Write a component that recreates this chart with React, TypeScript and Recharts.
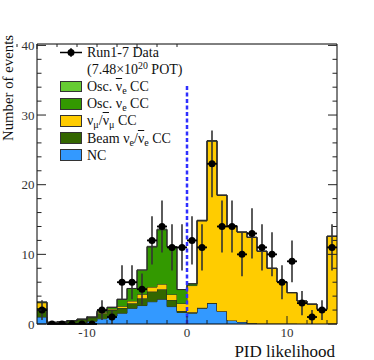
import React from 'react';
import { ComposedChart, Area, Scatter, ErrorBar, XAxis, YAxis, ReferenceLine } from 'recharts';

// ---- data (bins of width 1 from -15 to 15) ----
const BIN_EDGES = [-15, -14, -13, -12, -11, -10, -9, -8, -7, -6, -5, -4, -3, -2, -1, 0, 1, 2, 3, 4, 5, 6, 7, 8, 9, 10, 11, 12, 13, 14, 15];
const NC = [1.0, 0.1, 0.12, 0.15, 0.2, 0.4, 0.75, 1.15, 1.55, 2.25, 2.65, 3.2, 3.55, 2.5, 1.65, 1.55, 2.25, 2.95, 1.8, 0.5, 0.3, 0.12, 0.05, 0.03, 0.02, 0.02, 0.01, 0.01, 0.01, 0.05];
const BEAM_NUE = [1.3, 0.12, 0.15, 0.3, 0.42, 0.5, 0.8, 0.85, 0.75, 0.72, 1.05, 1.45, 1.45, 0.95, 0.2, 0.12, 0.08, 0.05, 0.03, 0.02, 0, 0, 0, 0, 0, 0, 0, 0, 0, 0];
const NUMU = [0.75, 0.02, 0.03, 0.03, 0.04, 0.05, 0.15, 0.15, 0.25, 0.33, 0.57, 0.65, 0.72, 0.8, 1.1, 3.85, 12.45, 23.25, 16.65, 13.58, 12.9, 12.33, 10.4, 7.97, 6.03, 4.48, 3.29, 2.84, 2.09, 12.55];
const OSC_NUE = [0.1, 0, 0, 0.02, 0.04, 0.05, 0.2, 0.25, 1.0, 1.8, 3.45, 5.75, 7.8, 6.8, 2.0, 0.25, 0.1, 0.05, 0.02, 0, 0, 0, 0, 0, 0, 0, 0, 0, 0, 0];
const OSC_NUEBAR = [0, 0, 0, 0, 0, 0, 0, 0, 0, 0, 0.05, 0.1, 0.1, 0.05, 0, 0, 0, 0, 0, 0, 0, 0, 0, 0, 0, 0, 0, 0, 0, 0];
const DATA_COUNTS = [2, 0, 0, 0, 0, 0, 2, 1, 6, 6, 5, 12, 14, 11, 11, 12, 11, 23, 14, 14, 10, 13, 11, 10, 6, 9, 3, 1, 2, 11];

const X_DOMAIN = [-15, 15];
const Y_DOMAIN = [0, 40.2];
const X_TICKS = [-14, -12, -10, -8, -6, -4, -2, 0, 2, 4, 6, 8, 10, 12, 14];
const X_MAJOR = [-10, 0, 10];
const Y_TICKS = [0, 2, 4, 6, 8, 10, 12, 14, 16, 18, 20, 22, 24, 26, 28, 30, 32, 34, 36, 38, 40];
const Y_MAJOR = [0, 10, 20, 30, 40];
const CUT_X = 0;
const CUT_LINE_TOP = 34.3;

const COLORS = {
  nuebar: '#66cc33',
  nue: '#339900',
  numu: '#ffcc00',
  beam: '#336600',
  nc: '#3399ff',
};

const histRows = BIN_EDGES.map((x, i) => {
  const j = Math.min(i, NC.length - 1);
  return { x, nc: NC[j], beam: BEAM_NUE[j], numu: NUMU[j], nue: OSC_NUE[j], nuebar: OSC_NUEBAR[j] };
});

const pointRows = DATA_COUNTS.map((n, i) => ({
  x: (BIN_EDGES[i] + BIN_EDGES[i + 1]) / 2,
  y: n,
  ey: Math.sqrt(n),
  ex: 0.5,
}));

const FONT = '"Liberation Serif", "DejaVu Serif", serif';

const makeTick = (side: string, majors: number[], showLabel: boolean) => (props: any) => {
  const { x, y, payload } = props;
  const v = payload.value;
  const major = majors.includes(v);
  let len = major ? 9 : 4.5;
  if (side === 'bottom') len = major ? 8 : 4;
  if (side === 'top') len = major ? 5 : 3;
  let x2 = x, y2 = y;
  if (side === 'bottom') y2 = y - len;
  if (side === 'top') y2 = y + len;
  if (side === 'left') x2 = x + len;
  if (side === 'right') x2 = x - len;
  let label = null;
  if (showLabel && major) {
    if (side === 'bottom') {
      label = <text x={x} y={y + 13} textAnchor="middle" fontFamily={FONT} fontSize={13} fill="#333">{String(v)}</text>;
    } else if (side === 'left') {
      label = <text x={x - 2.5} y={y} dy="0.36em" textAnchor="end" fontFamily={FONT} fontSize={13} fill="#333">{String(v)}</text>;
    }
  }
  return (
    <g>
      <line x1={x} y1={y} x2={x2} y2={y2} stroke="#222" strokeWidth={1} />
      {label}
    </g>
  );
};

const XTitle = (props: any) => {
  const vb = props.viewBox || { x: 37, y: 324, width: 300, height: 30 };
  return (
    <text x={vb.x + vb.width - 2} y={vb.y + 32.5} textAnchor="end" fontFamily={FONT} fontSize={17} fill="#111">PID likelihood</text>
  );
};

const YTitle = (props: any) => {
  const vb = props.viewBox || { x: 7, y: 44, width: 30, height: 280 };
  const tx = vb.x + vb.width - 24;
  const ty = vb.y - 9;
  return (
    <text transform={`translate(${tx},${ty}) rotate(-90)`} textAnchor="end" fontFamily={FONT} fontSize={14.8} fill="#111">Number of events</text>
  );
};

const Dot = (p: any) => <circle cx={p.cx} cy={p.cy} r={3.5} fill="#000" />;

const Nu = ({ bar, sub }: { bar?: boolean; sub: string }) => (
  <span>
    <span style={bar ? { textDecoration: 'overline' } : undefined}>ν</span>
    <span style={{ fontSize: '0.72em', verticalAlign: '-0.3em', lineHeight: 0 }}>{sub}</span>
  </span>
);

const ROW_H = 17.1;
const LEGEND_FIRST_CENTER = 52.5;

const legendRows: { key: string; marker: string; content: React.ReactNode }[] = [
  { key: 'data', marker: 'data', content: <span>Run1-7 Data</span> },
  { key: 'pot', marker: 'none', content: <span>(7.48×10<span style={{ fontSize: '0.7em', verticalAlign: '0.5em', lineHeight: 0 }}>20</span> POT)</span> },
  { key: 'nuebar', marker: COLORS.nuebar, content: <span>Osc. <Nu bar sub="e" /> CC</span> },
  { key: 'nue', marker: COLORS.nue, content: <span>Osc. <Nu sub="e" /> CC</span> },
  { key: 'numu', marker: COLORS.numu, content: <span><Nu sub="μ" />/<Nu bar sub="μ" /> CC</span> },
  { key: 'beam', marker: COLORS.beam, content: <span>Beam <Nu sub="e" />/<Nu bar sub="e" /> CC</span> },
  { key: 'nc', marker: COLORS.nc, content: <span>NC</span> },
];

const LegendBox = () => (
  <div style={{ position: 'absolute', left: 0, top: 0, width: 374, height: 360, pointerEvents: 'none', fontFamily: FONT, fontSize: 14, color: '#111' }}>
    {legendRows.map((r, i) => {
      const center = LEGEND_FIRST_CENTER + i * ROW_H;
      return (
        <div key={r.key} style={{ position: 'absolute', left: 60, top: center - 8.5, height: 17, lineHeight: '17px', display: 'flex', alignItems: 'center', whiteSpace: 'nowrap' }}>
          <div style={{ width: 22, height: 17, marginRight: 5, display: 'flex', alignItems: 'center', justifyContent: 'center' }}>
            {r.marker === 'data' ? (
              <svg width={22} height={17}>
                <line x1={0} y1={8.5} x2={22} y2={8.5} stroke="#000" strokeWidth={1.5} />
                <line x1={11} y1={4} x2={11} y2={13} stroke="#333" strokeWidth={1.5} />
                <circle cx={11} cy={8.5} r={3.5} fill="#000" />
              </svg>
            ) : r.marker === 'none' ? null : (
              <div style={{ width: 21.5, height: 11.5, boxSizing: 'border-box', background: r.marker, border: '1px solid #333' }} />
            )}
          </div>
          {r.content}
        </div>
      );
    })}
  </div>
);

export default function App() {
  return (
    <div style={{ position: 'relative', width: 374, height: 360, background: '#fff' }}>
      <style>{'body{margin:0;}'}</style>
      <ComposedChart width={374} height={360} data={histRows} margin={{ top: 43, right: 36, bottom: 6, left: 7 }}>
        <XAxis dataKey="x" type="number" domain={X_DOMAIN} allowDataOverflow ticks={X_TICKS} interval={0} height={30}
          tickSize={0} tickMargin={0} tickLine={false} tick={makeTick('bottom', X_MAJOR, true)} axisLine={{ stroke: '#000', strokeWidth: 1 }}
          label={<XTitle />} />
        <XAxis xAxisId="top" orientation="top" type="number" domain={X_DOMAIN} allowDataOverflow ticks={X_TICKS} interval={0} height={1}
          tickSize={0} tickMargin={0} tickLine={false} tick={makeTick('top', X_MAJOR, false)} axisLine={{ stroke: '#000', strokeWidth: 1 }} />
        <YAxis type="number" domain={Y_DOMAIN} allowDataOverflow ticks={Y_TICKS} interval={0} width={30}
          tickSize={0} tickMargin={0} tickLine={false} tick={makeTick('left', Y_MAJOR, true)} axisLine={{ stroke: '#000', strokeWidth: 1 }}
          label={<YTitle />} />
        <YAxis yAxisId="right" orientation="right" type="number" domain={Y_DOMAIN} allowDataOverflow ticks={Y_TICKS} interval={0} width={1}
          tickSize={0} tickMargin={0} tickLine={false} tick={makeTick('right', Y_MAJOR, false)} axisLine={{ stroke: '#000', strokeWidth: 1 }} />
        <Area type="stepAfter" dataKey="nc" stackId="mc" fill={COLORS.nc} fillOpacity={1} stroke="#2a2a2a" strokeWidth={1} isAnimationActive={false} dot={false} activeDot={false} />
        <Area type="stepAfter" dataKey="beam" stackId="mc" fill={COLORS.beam} fillOpacity={1} stroke="#2a2a2a" strokeWidth={1} isAnimationActive={false} dot={false} activeDot={false} />
        <Area type="stepAfter" dataKey="numu" stackId="mc" fill={COLORS.numu} fillOpacity={1} stroke="#2a2a2a" strokeWidth={1} isAnimationActive={false} dot={false} activeDot={false} />
        <Area type="stepAfter" dataKey="nue" stackId="mc" fill={COLORS.nue} fillOpacity={1} stroke="#2a2a2a" strokeWidth={1} isAnimationActive={false} dot={false} activeDot={false} />
        <Area type="stepAfter" dataKey="nuebar" stackId="mc" fill={COLORS.nuebar} fillOpacity={1} stroke="#2a2a2a" strokeWidth={1} isAnimationActive={false} dot={false} activeDot={false} />
        <ReferenceLine segment={[{ x: CUT_X, y: 0 }, { x: CUT_X, y: CUT_LINE_TOP }]} stroke="#2f2fff" strokeWidth={2.5} strokeDasharray="4 2.5" />
        <Scatter data={pointRows} dataKey="y" shape={Dot} isAnimationActive={false}>
          <ErrorBar dataKey="ey" direction="y" width={0} stroke="#333" strokeWidth={1.6} isAnimationActive={false} />
          <ErrorBar dataKey="ex" direction="x" width={0} stroke="#000" strokeWidth={1.8} isAnimationActive={false} />
        </Scatter>
      </ComposedChart>
      <LegendBox />
    </div>
  );
}
